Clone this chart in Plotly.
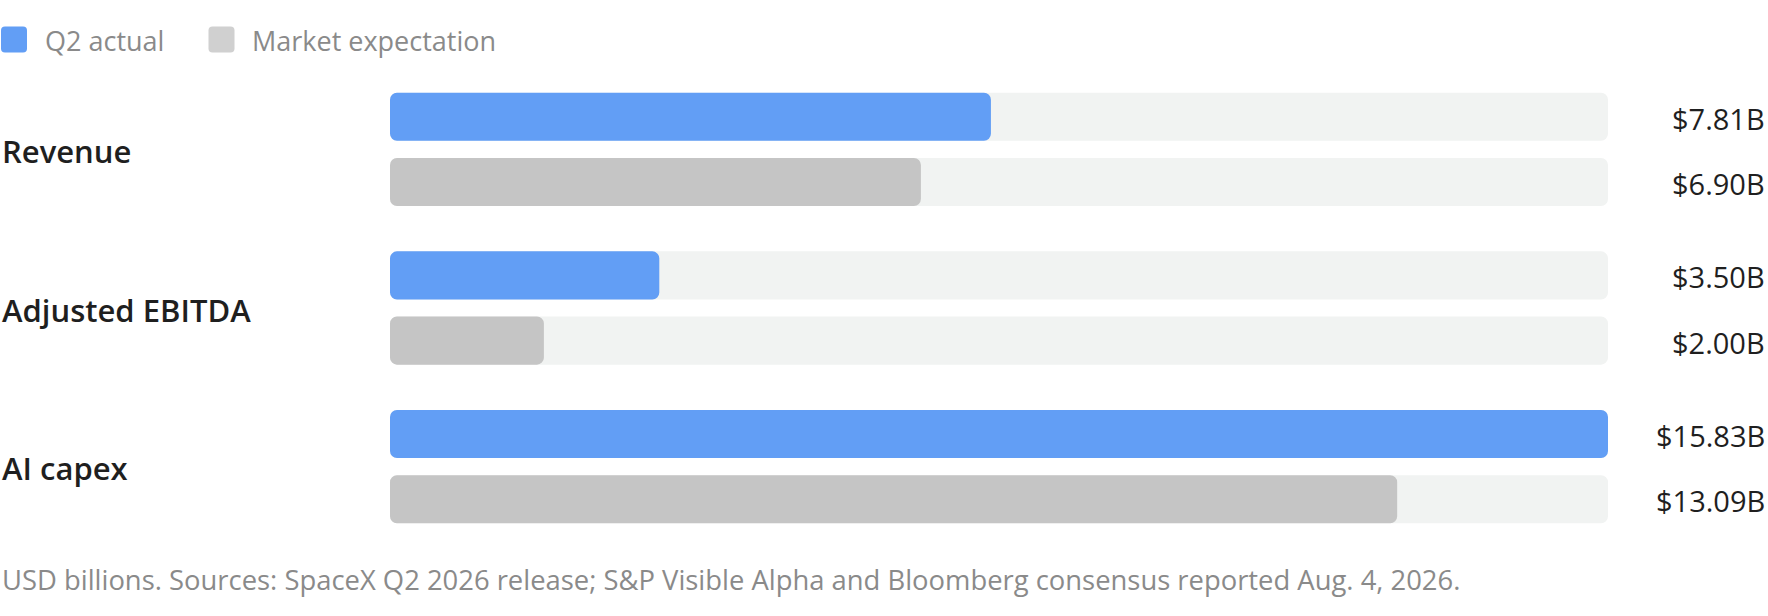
import plotly.graph_objects as go

# ---------------- data ----------------
categories = ["Revenue", "Adjusted EBITDA", "AI capex"]
series_names = ["Q2 actual", "Market expectation"]
q2_actual = [7.81, 3.50, 15.83]
market_expectation = [6.90, 2.00, 13.09]
footnote = ("USD billions. Sources: SpaceX Q2 2026 release; S&P Visible Alpha and "
            "Bloomberg consensus reported Aug. 4, 2026.")

# ---------------- style ----------------
W, H = 1768, 616
ML, MR, MT, MB = 390, 160, 70, 70
PW, PH = W - ML - MR, H - MT - MB
FONT = "Open Sans"
BLUE = "#629ef5"
GRAY = "#c5c5c5"
LEGEND_GRAY = "#d0d0d0"
TRACK = "#f1f3f2"
DARK = "#1f1f1f"
MUTED = "#8a8a8a"
BAR_W = 0.303
OFFSETS = [-0.357, 0.054]
RADIUS = 7


def px2x(px):
    return (px - ML) / PW


def py2y(py):
    return (H - MB - py) / PH


series = [q2_actual, market_expectation]
colors = [BLUE, GRAY]
track_max = max(max(s) for s in series)

fig = go.Figure()


def add_rounded_bars(values, color, offset, name, hover=True):
    # an explicit base makes plotly round both ends of the bar
    fig.add_trace(go.Bar(
        y=categories, x=values, base=[0] * len(values), orientation="h",
        width=BAR_W, offset=offset,
        marker=dict(color=color, cornerradius=RADIUS, line=dict(width=0)),
        name=name, showlegend=False,
        hovertemplate=("%{y}: $%{x:.2f}B<extra>" + name + "</extra>") if hover else None,
        hoverinfo=None if hover else "skip",
    ))


for k, (name, vals, col) in enumerate(zip(series_names, series, colors)):
    add_rounded_bars([track_max] * len(categories), TRACK, OFFSETS[k], "track", hover=False)
    add_rounded_bars(vals, col, OFFSETS[k], name)

annotations = []
# category labels
for i, c in enumerate(categories):
    annotations.append(dict(
        x=px2x(0), xref="paper", y=i, yref="y", yshift=-1.5,
        text=c, showarrow=False, xanchor="left", yanchor="middle",
        font=dict(family=FONT, size=31, color=DARK, weight=600),
    ))
# value labels
for k, vals in enumerate(series):
    for i, v in enumerate(vals):
        annotations.append(dict(
            x=px2x(1767), xref="paper", y=i + OFFSETS[k] + BAR_W / 2, yref="y",
            yshift=-1.5,
            text=f"${v:.2f}B", showarrow=False, xanchor="right", yanchor="middle",
            font=dict(family=FONT, size=29, color=DARK),
        ))

# legend (manual)
shapes = []
leg_sq_x = [14, 221.5]
leg_txt_x = [43, 250]
leg_y = 39.5
r, s = 4, 13
path = (f"M{-s + r},{-s} H{s - r} Q{s},{-s} {s},{-s + r} V{s - r} Q{s},{s} {s - r},{s} "
        f"H{-s + r} Q{-s},{s} {-s},{s - r} V{-s + r} Q{-s},{-s} {-s + r},{-s} Z")
for name, col, sx, tx in zip(series_names, [BLUE, LEGEND_GRAY], leg_sq_x, leg_txt_x):
    shapes.append(dict(
        type="path", xref="paper", yref="paper", xsizemode="pixel", ysizemode="pixel",
        xanchor=px2x(sx), yanchor=py2y(leg_y), path=path,
        fillcolor=col, line=dict(width=0),
    ))
    annotations.append(dict(
        x=px2x(tx), xref="paper", y=py2y(leg_y + 1), yref="paper",
        text=name, showarrow=False, xanchor="left", yanchor="middle",
        font=dict(family=FONT, size=27, color=MUTED),
    ))

# footnote
annotations.append(dict(
    x=px2x(0), xref="paper", y=py2y(579), yref="paper",
    text=footnote, showarrow=False, xanchor="left", yanchor="middle",
    font=dict(family=FONT, size=27.4, color=MUTED),
))

fig.update_layout(
    width=W, height=H,
    margin=dict(l=ML, r=MR, t=MT, b=MB, pad=0),
    paper_bgcolor="white", plot_bgcolor="white",
    barmode="overlay",
    showlegend=False,
    xaxis=dict(range=[0, track_max], visible=False, fixedrange=True),
    yaxis=dict(type="category", categoryorder="array", categoryarray=categories,
               range=[len(categories) - 0.5, -0.5], visible=False, fixedrange=True),
    annotations=annotations,
    shapes=shapes,
    font=dict(family=FONT),
)

fig.write_html("out.html",
               config={"displayModeBar": False},
               post_script="document.body.style.margin='0';document.body.style.overflow='hidden';")
